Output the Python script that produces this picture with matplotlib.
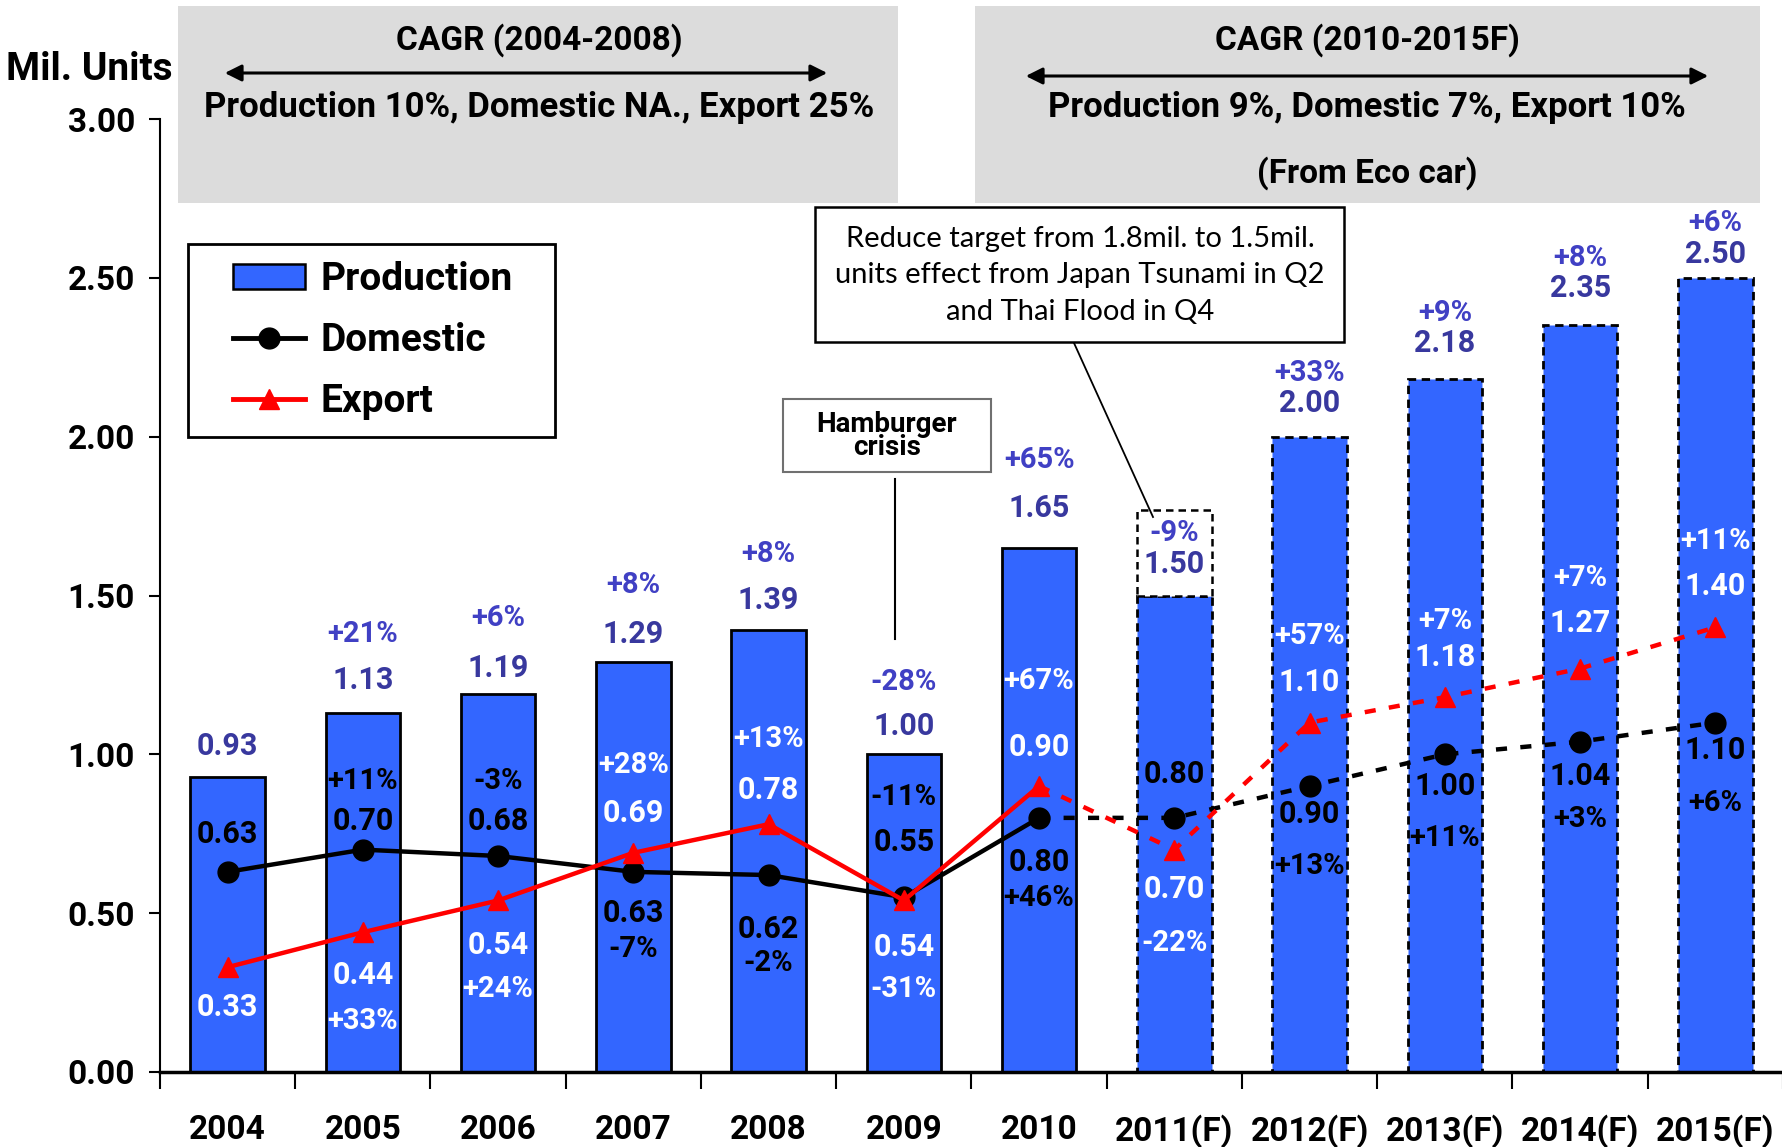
import matplotlib
matplotlib.use("Agg")
import matplotlib.pyplot as plt
from matplotlib.patches import Rectangle, Patch, FancyArrowPatch
from matplotlib.lines import Line2D
import numpy as np

# ---------------- data ----------------
years = ["2004", "2005", "2006", "2007", "2008", "2009", "2010",
         "2011(F)", "2012(F)", "2013(F)", "2014(F)", "2015(F)"]
production = [0.93, 1.13, 1.19, 1.29, 1.39, 1.00, 1.65, 1.50, 2.00, 2.18, 2.35, 2.50]
production_growth = ["", "+21%", "+6%", "+8%", "+8%", "-28%", "+65%", "-9%", "+33%", "+9%", "+8%", "+6%"]
domestic = [0.63, 0.70, 0.68, 0.63, 0.62, 0.55, 0.80, 0.80, 0.90, 1.00, 1.04, 1.10]
domestic_growth = ["", "+11%", "-3%", "-7%", "-2%", "-11%", "+46%", "", "+13%", "+11%", "+3%", "+6%"]
export = [0.33, 0.44, 0.54, 0.69, 0.78, 0.54, 0.90, 0.70, 1.10, 1.18, 1.27, 1.40]
export_growth = ["", "+33%", "+24%", "+28%", "+13%", "-31%", "+67%", "-22%", "+57%", "+7%", "+7%", "+11%"]
target_2011 = 1.77
yticks = [0.0, 0.5, 1.0, 1.5, 2.0, 2.5, 3.0]

# label positions (data units, separate from values)
prod_val_y = [1.027, 1.235, 1.271, 1.378, 1.486, 1.088, 1.776, 1.600, 2.105, 2.295, 2.467, 2.574]
prod_pct_y = [None, 1.378, 1.428, 1.532, 1.632, 1.228, 1.926, 1.696, 2.200, 2.390, 2.563, 2.672]
dom_val_y = [0.748, 0.791, 0.791, 0.501, 0.451, 0.723, 0.662, 0.938, 0.813, 0.899, 0.931, 1.013]
dom_pct_y = [None, 0.916, 0.916, 0.387, 0.344, 0.866, 0.548, None, 0.648, 0.737, 0.798, 0.848]
exp_val_y = [0.204, 0.304, 0.401, 0.816, 0.888, 0.394, 1.024, 0.576, 1.228, 1.307, 1.414, 1.529]
exp_pct_y = [None, 0.161, 0.261, 0.967, 1.049, 0.261, 1.232, 0.405, 1.371, 1.421, 1.554, 1.672]

# ---------------- styling ----------------
W, H = 1783, 1147
BLUE = "#3366FF"
VAL_BLUE = "#38389E"
PCT_BLUE = "#4040C4"
GRAY = "#DCDCDC"
BOLDF = ["Roboto", "DejaVu Sans"]
REGF = ["Lato", "DejaVu Sans"]
plt.rcParams["font.family"] = BOLDF

def fx(x):
    return x / W

def fy(y):
    return 1 - y / H

fig = plt.figure(figsize=(W / 100, H / 100), dpi=100)
ax = fig.add_axes([fx(160), fy(1072), (1783 - 160) / W, (1072 - 119) / H])
ax.patch.set_visible(False)

# header gray boxes
for (x0, x1) in [(178, 898), (975, 1760)]:
    fig.patches.append(Rectangle((fx(x0), fy(203)), fx(x1) - fx(x0), fy(6) - fy(203),
                                 transform=fig.transFigure, facecolor=GRAY,
                                 edgecolor="none", zorder=0))

hdr = dict(ha="center", va="center", fontweight="bold", family=BOLDF)
fig.text(fx(539), fy(40), "CAGR (2004-2008)", fontsize=24, **hdr)
fig.text(fx(539), fy(107), "Production 10%, Domestic NA., Export 25%", fontsize=25, **hdr)
fig.text(fx(1367), fy(40), "CAGR (2010-2015F)", fontsize=24, **hdr)
fig.text(fx(1367), fy(107), "Production 9%, Domestic 7%, Export 10%", fontsize=25, **hdr)
fig.text(fx(1367), fy(173), "(From Eco car)", fontsize=24, **hdr)
for (x0, x1, yy) in [(222, 830, 73), (1023, 1711, 76)]:
    fig.add_artist(FancyArrowPatch(
        (fx(x0), fy(yy)), (fx(x1), fy(yy)), transform=fig.transFigure,
        arrowstyle="<|-|>,head_length=10,head_width=5", color="black", lw=2.2))

fig.text(fx(89), fy(70), "Mil. Units", ha="center", va="center",
         fontsize=28, fontweight="bold", family=BOLDF)

x = np.arange(len(years))
n_actual = 7
bw = 0.55

# bars
ax.bar(x[:n_actual], production[:n_actual], width=bw, color=BLUE,
       edgecolor="black", linewidth=2, zorder=2)
ax.bar(x[n_actual:], production[n_actual:], width=bw, color=BLUE,
       edgecolor="black", linewidth=2, linestyle=(0, (3, 2)), zorder=2)
# 2011 original target (dashed box)
ax.bar(x[7], target_2011 - production[7], bottom=production[7], width=bw,
       color="white", edgecolor="black", linewidth=1.8, linestyle=(0, (3, 2)), zorder=2)

# lines
lw = 3.2
ms = 15
fc = list(range(1, len(years) - n_actual + 1))
ax.plot(x[:n_actual], domestic[:n_actual], color="black", lw=lw, marker="o",
        markersize=ms, zorder=4)
ax.plot(x[n_actual - 1:], domestic[n_actual - 1:], color="black", lw=lw,
        linestyle=(0, (2.5, 3)), marker="o", markersize=ms, zorder=4, markevery=fc)
ax.plot(x[:n_actual], export[:n_actual], color="red", lw=lw, marker="^",
        markersize=ms, zorder=5)
ax.plot(x[n_actual - 1:], export[n_actual - 1:], color="red", lw=lw,
        linestyle=(0, (2.5, 3)), marker="^", markersize=ms, zorder=5, markevery=fc)

# labels
lab = dict(ha="center", va="center", fontweight="bold", family=BOLDF, zorder=6)
for i in range(len(years)):
    ax.text(x[i], prod_val_y[i], f"{production[i]:.2f}", color=VAL_BLUE, fontsize=22, **lab)
    if prod_pct_y[i] is not None:
        ax.text(x[i], prod_pct_y[i], production_growth[i], color=PCT_BLUE, fontsize=21, **lab)
    ax.text(x[i], dom_val_y[i], f"{domestic[i]:.2f}", color="black", fontsize=22, **lab)
    if dom_pct_y[i] is not None:
        ax.text(x[i], dom_pct_y[i], domestic_growth[i], color="black", fontsize=21, **lab)
    ax.text(x[i], exp_val_y[i], f"{export[i]:.2f}", color="white", fontsize=22, **lab)
    if exp_pct_y[i] is not None:
        ax.text(x[i], exp_pct_y[i], export_growth[i], color="white", fontsize=21, **lab)

# axes
ax.set_xlim(-0.5, len(years) - 0.5)
ax.set_ylim(0, 3.0)
ax.set_yticks(yticks)
ax.set_yticklabels([f"{v:.2f}" for v in yticks], fontsize=24, fontweight="bold", family=BOLDF)
ax.set_xticks(x)
ax.set_xticklabels(years, fontsize=24, fontweight="bold", family=BOLDF)
ax.set_xticks(np.arange(-0.5, len(years)), minor=True)
ax.tick_params(axis="x", which="major", length=0, pad=30)
ax.tick_params(axis="x", which="minor", length=12, width=1.5, direction="out")
ax.tick_params(axis="y", length=8, width=1.5, direction="out", pad=10)
for s in ["top", "right"]:
    ax.spines[s].set_visible(False)
ax.spines["left"].set_linewidth(1.5)
ax.spines["bottom"].set_linewidth(2.5)
ax.spines["bottom"].set_zorder(3)

# legend (frame drawn separately)
fig.patches.append(Rectangle((fx(188), fy(437)), fx(555) - fx(188), fy(244) - fy(437),
                             transform=fig.transFigure, facecolor="white",
                             edgecolor="black", lw=2, zorder=1))
handles = [Patch(facecolor=BLUE, edgecolor="black", linewidth=1.8),
           Line2D([], [], color="black", lw=3.5, marker="o", markersize=15),
           Line2D([], [], color="red", lw=3.5, marker="^", markersize=15)]
leg = fig.legend(handles, ["Production", "Domestic", "Export"],
                 loc="upper left", bbox_to_anchor=(fx(233), fy(261)),
                 bbox_transform=fig.transFigure, frameon=False,
                 handlelength=1.85, handleheight=0.6,
                 labelspacing=0.62, borderpad=0, borderaxespad=0, handletextpad=0.4,
                 prop={"family": BOLDF, "weight": "bold", "size": 28})
leg.set_zorder(2)

# annotation boxes
fig.patches.append(Rectangle((fx(783), fy(472)), fx(991) - fx(783), fy(399) - fy(472),
                             transform=fig.transFigure, facecolor="white",
                             edgecolor="#707070", lw=1.5, zorder=3))
fig.text(fx(887), fy(436), "Hamburger\ncrisis", ha="center", va="center",
         fontsize=20, fontweight="bold", linespacing=0.85, family=BOLDF, zorder=4)
fig.add_artist(Line2D([fx(895), fx(895)], [fy(479), fy(639)], color="black", lw=1.5,
                      transform=fig.transFigure))

fig.patches.append(Rectangle((fx(815), fy(342)), fx(1344) - fx(815), fy(207) - fy(342),
                             transform=fig.transFigure, facecolor="white",
                             edgecolor="black", lw=1.8, zorder=3))
fig.text(fx(1080), fy(275),
         "Reduce target from 1.8mil. to 1.5mil.\nunits effect from Japan Tsunami in Q2\nand Thai Flood in Q4",
         ha="center", va="center", fontsize=21, linespacing=1.5, family=REGF, zorder=4)
fig.add_artist(Line2D([fx(1074), fx(1153)], [fy(343), fy(517)], color="black", lw=1.3,
                      transform=fig.transFigure))

fig.savefig("out.png", dpi=100)
